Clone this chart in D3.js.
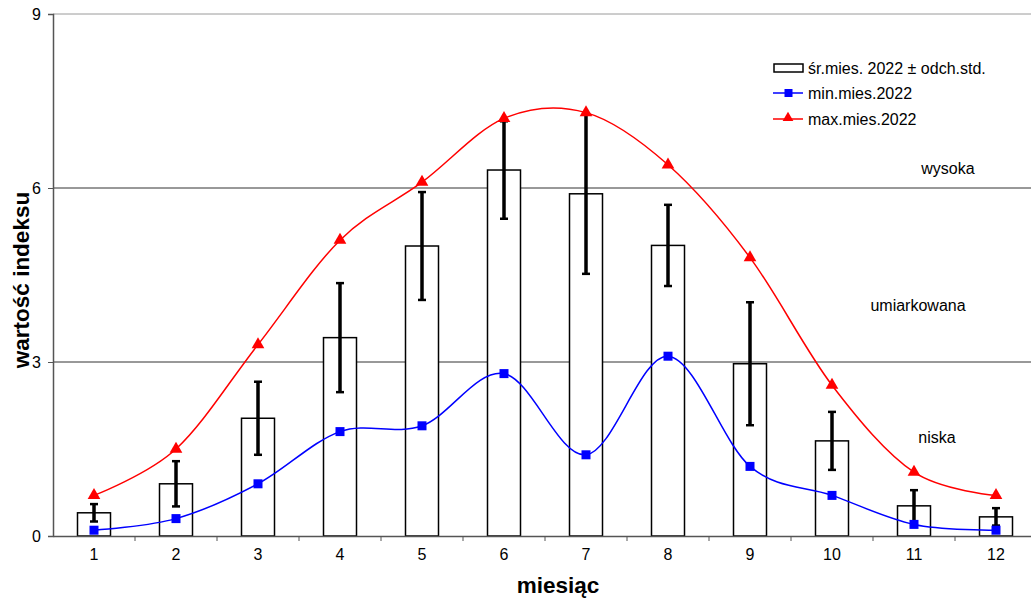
<!DOCTYPE html>
<html><head><meta charset="utf-8">
<script src="https://cdn.jsdelivr.net/npm/d3@7"></script>
<style>body{margin:0;background:#fff;}svg{display:block;font-family:Arial,"Liberation Sans",sans-serif;}</style>
</head><body>
<svg id="c" width="1031" height="598"></svg>
<script>
const months = [1,2,3,4,5,6,7,8,9,10,11,12];
const meanVals = [0.40,0.90,2.03,3.42,5.00,6.31,5.90,5.01,2.97,1.64,0.52,0.33];
const stdVals  = [0.15,0.39,0.63,0.94,0.93,0.84,1.38,0.70,1.06,0.50,0.27,0.15];
const minVals  = [0.1,0.3,0.9,1.8,1.9,2.8,1.4,3.1,1.2,0.7,0.2,0.1];
const maxVals  = [0.7,1.5,3.3,5.1,6.1,7.2,7.3,6.4,4.8,2.6,1.1,0.7];
const yTicks = [0,3,6,9];
const zoneLabels = ["wysoka","umiarkowana","niska"];
const legendLabels = ["śr.mies. 2022 ± odch.std.","min.mies.2022","max.mies.2022"];

const svg = d3.select("#c");
const L = 53, R = 1037, T = 14, B = 536;
const x = d3.scaleBand().domain(months).range([L,R]).paddingInner(0).paddingOuter(0);
const y = d3.scaleLinear().domain([0,9]).range([B,T]);
const cx = m => x(m) + x.bandwidth()/2;
const FONT = "Arial, Liberation Sans, sans-serif";

// gridlines
svg.append("g").selectAll("line").data(yTicks.filter(v=>v>0)).join("line")
  .attr("x1",L).attr("x2",R).attr("y1",d=>y(d)).attr("y2",d=>y(d))
  .attr("stroke",d=>d===9?"#9a9a9a":"#333").attr("stroke-width",1);

// zone labels
const zonePos = [[948,6.34],[918,3.98],[937,1.70]];
svg.append("g").selectAll("text").data(zoneLabels).join("text")
  .attr("x",(d,i)=>zonePos[i][0]).attr("y",(d,i)=>y(zonePos[i][1])+6).attr("text-anchor","middle")
  .attr("font-size",16).attr("fill","#000").text(d=>d);

// bars
const bw = 33;
svg.append("g").selectAll("rect").data(months).join("rect")
  .attr("x",(m)=>cx(m)-bw/2).attr("width",bw)
  .attr("y",(m,i)=>y(meanVals[i])).attr("height",(m,i)=>B-y(meanVals[i]))
  .attr("fill","#fff").attr("stroke","#000").attr("stroke-width",1.5);

// axes
const yAxis = d3.axisLeft(y).tickValues(yTicks).tickSize(5).tickPadding(7);
const gy = svg.append("g").attr("transform",`translate(${L},0)`).call(yAxis);
gy.select(".domain").attr("stroke","#555").attr("stroke-width",1.5);
gy.selectAll(".tick line").attr("stroke","#555");
gy.selectAll("text").attr("font-size",16).attr("font-family",FONT).attr("fill","#000");

const xAxis = d3.axisBottom(x).tickSize(0).tickPadding(13);
const gx = svg.append("g").attr("transform",`translate(0,${B})`).call(xAxis);
gx.select(".domain").attr("stroke","#555").attr("stroke-width",1.5);
gx.selectAll("text").attr("font-size",16).attr("font-family",FONT).attr("fill","#000");
svg.append("g").selectAll("line").data(months.slice(1)).join("line")
  .attr("x1",m=>x(m)).attr("x2",m=>x(m)).attr("y1",B).attr("y2",B+5)
  .attr("stroke","#555").attr("stroke-width",1);

// lines
const line = d3.line().x((d,i)=>cx(months[i])).y(d=>y(d)).curve(d3.curveCardinal.tension(0));
svg.append("path").datum(maxVals).attr("d",line).attr("fill","none").attr("stroke","#ff0000").attr("stroke-width",1.5);
svg.append("path").datum(minVals).attr("d",line).attr("fill","none").attr("stroke","#0000ff").attr("stroke-width",1.5);

// error bars
const eb = svg.append("g").attr("stroke","#000").attr("stroke-width",3.5);
months.forEach((m,i)=>{
  const hi = y(meanVals[i]+stdVals[i]), lo = y(meanVals[i]-stdVals[i]);
  eb.append("line").attr("x1",cx(m)).attr("x2",cx(m)).attr("y1",hi).attr("y2",lo);
  eb.append("line").attr("x1",cx(m)-4).attr("x2",cx(m)+4).attr("y1",hi).attr("y2",hi).attr("stroke-width",2.5);
  eb.append("line").attr("x1",cx(m)-4).attr("x2",cx(m)+4).attr("y1",lo).attr("y2",lo).attr("stroke-width",2.5);
});

// markers
const tri = d3.symbol().type(d3.symbolTriangle).size(70);
svg.append("g").selectAll("path").data(maxVals).join("path")
  .attr("d",tri).attr("transform",(d,i)=>`translate(${cx(months[i])},${y(d)})`).attr("fill","#ff0000");
svg.append("g").selectAll("rect").data(minVals).join("rect")
  .attr("x",(d,i)=>cx(months[i])-4.5).attr("y",d=>y(d)-4.5).attr("width",9).attr("height",9).attr("fill","#0000ff");

// axis titles
svg.append("text").attr("transform","translate(29,280) rotate(-90)").attr("text-anchor","middle")
  .attr("font-size",22.5).attr("font-weight","bold").text("wartość indeksu");
svg.append("text").attr("x",558).attr("y",593).attr("text-anchor","middle")
  .attr("font-size",22.5).attr("font-weight","bold").text("miesiąc");

// legend
const lg = svg.append("g");
const ly = [68,93,119];
lg.append("rect").attr("x",774).attr("y",ly[0]-4).attr("width",29).attr("height",8).attr("fill","#fff").attr("stroke","#000").attr("stroke-width",1.5);
lg.append("line").attr("x1",773).attr("x2",803).attr("y1",ly[1]).attr("y2",ly[1]).attr("stroke","#0000ff").attr("stroke-width",1.5);
lg.append("rect").attr("x",784.5).attr("y",ly[1]-4).attr("width",8).attr("height",8).attr("fill","#0000ff");
lg.append("line").attr("x1",773).attr("x2",803).attr("y1",ly[2]).attr("y2",ly[2]).attr("stroke","#ff0000").attr("stroke-width",1.5);
lg.append("path").attr("d",d3.symbol().type(d3.symbolTriangle).size(50)).attr("transform",`translate(788,${ly[2]-1})`).attr("fill","#ff0000");
lg.selectAll("text.l").data(legendLabels).join("text").attr("class","l")
  .attr("x",808).attr("y",(d,i)=>ly[i]+6).attr("font-size",16).text(d=>d);
</script>
</body></html>
